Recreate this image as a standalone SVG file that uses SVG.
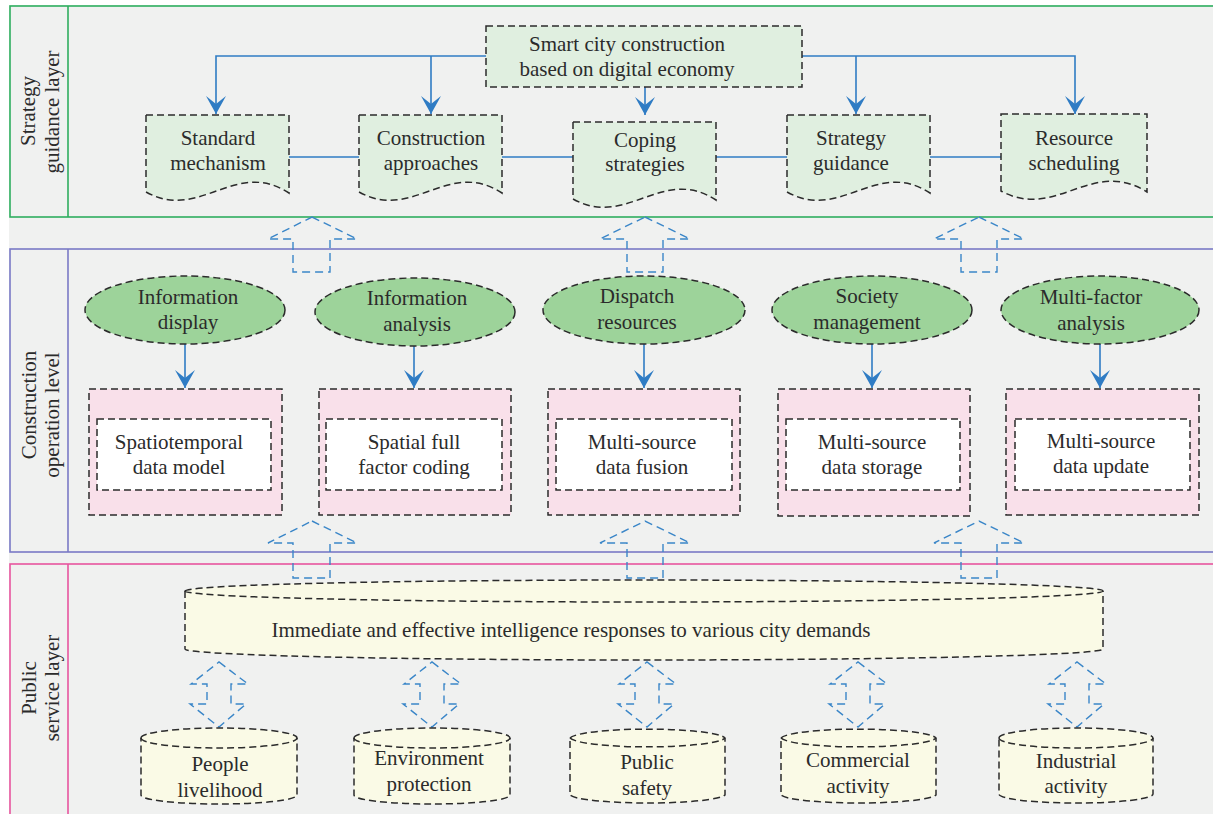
<svg xmlns="http://www.w3.org/2000/svg" width="1213" height="814" viewBox="0 0 1213 814">
<defs>
<style>
.t{font-family:"Liberation Serif","Times New Roman",serif;font-size:21px;fill:#2b2b2b;text-anchor:middle}
.doc{fill:#e0efe0;stroke:#2b2b2b;stroke-width:1.5;stroke-dasharray:7 4}
.ell{fill:#9dd39a;stroke:#2b2b2b;stroke-width:1.5;stroke-dasharray:7 4}
.pink{fill:#f9e0ea;stroke:#2b2b2b;stroke-width:1.5;stroke-dasharray:7 4}
.white{fill:#ffffff;stroke:#2b2b2b;stroke-width:1.5;stroke-dasharray:7 4}
.cyl{fill:#fafae6;stroke:#2b2b2b;stroke-width:1.5;stroke-dasharray:7 4}
.con{fill:none;stroke:#2f7cc4;stroke-width:1.6}
.hol{fill:none;stroke:#3a86c8;stroke-width:1.4;stroke-dasharray:8 5}
</style>
<marker id="ah" markerUnits="userSpaceOnUse" markerWidth="24" markerHeight="24" viewBox="-20 -12 22 24" refX="0" refY="0" orient="auto">
<path d="M0,0 L-18,-10 L-10,0 L-18,10 Z" fill="#2f7cc4"/>
</marker>
</defs>
<rect x="0" y="0" width="1213" height="814" fill="#ffffff"/>
<rect x="9" y="5" width="1210" height="815" fill="#f0f1f0"/>

<g id="layer-strategy">
<rect x="10" y="6" width="1215" height="211" fill="none" stroke="#2fae5f" stroke-width="1.6"/>
<line x1="68" y1="6" x2="68" y2="217" stroke="#2fae5f" stroke-width="1.6"/>
<text class="t" transform="translate(35,111) rotate(-90)">Strategy</text>
<text class="t" transform="translate(59,112) rotate(-90)">guidance layer</text>
</g>
<g id="layer-construction">
<rect x="10" y="249" width="1215" height="303" fill="none" stroke="#7a7ac6" stroke-width="1.6"/>
<line x1="68" y1="249" x2="68" y2="552" stroke="#7a7ac6" stroke-width="1.6"/>
<text class="t" transform="translate(36,405) rotate(-90)">Construction</text>
<text class="t" transform="translate(59,415) rotate(-90)">operation level</text>
</g>
<g id="layer-public">
<rect x="10" y="564" width="1215" height="260" fill="none" stroke="#e8559f" stroke-width="1.6"/>
<line x1="68" y1="564" x2="68" y2="820" stroke="#e8559f" stroke-width="1.6"/>
<text class="t" transform="translate(36,688) rotate(-90)">Public</text>
<text class="t" transform="translate(59,688) rotate(-90)">service layer</text>
</g>

<g id="connectors">
<path class="con" d="M486,56 H216 V114" marker-end="url(#ah)"/>
<path class="con" d="M431,56 V114" marker-end="url(#ah)"/>
<path class="con" d="M802,56 H1075 V114" marker-end="url(#ah)"/>
<path class="con" d="M856,56 V114" marker-end="url(#ah)"/>
<path class="con" d="M645,87 V115" marker-end="url(#ah)"/>
<path class="con" d="M289,157 H360 M502,157 H573 M716,157 H787 M930,157 H1001"/>
<path class="con" d="M185,344 V388" marker-end="url(#ah)"/>
<path class="con" d="M414,346 V388" marker-end="url(#ah)"/>
<path class="con" d="M644,344 V388" marker-end="url(#ah)"/>
<path class="con" d="M872,344 V388" marker-end="url(#ah)"/>
<path class="con" d="M1100,344 V388" marker-end="url(#ah)"/>
<path class="hol" d="M312,217 L357,239 H330 V272 H293 V239 H268 Z"/>
<path class="hol" d="M645,217 L690,239 H663 V272 H627 V239 H600 Z"/>
<path class="hol" d="M979,217 L1024,239 H997 V272 H961 V239 H934 Z"/>
<path class="hol" d="M312,521 L357,543 H330 V578 H293 V543 H268 Z"/>
<path class="hol" d="M645,521 L690,543 H663 V578 H627 V543 H600 Z"/>
<path class="hol" d="M979,521 L1024,543 H997 V578 H961 V543 H934 Z"/>
<path class="hol" d="M219,662 L248,684 H231 V704 H246 L219,727 L190,704 H207 V684 H191 Z"/>
<path class="hol" d="M432,662 L461,684 H444 V704 H459 L432,727 L403,704 H420 V684 H404 Z"/>
<path class="hol" d="M647,662 L676,684 H659 V704 H674 L647,727 L618,704 H635 V684 H619 Z"/>
<path class="hol" d="M858,662 L887,684 H870 V704 H885 L858,727 L829,704 H846 V684 H830 Z"/>
<path class="hol" d="M1077,662 L1106,684 H1089 V704 H1104 L1077,727 L1048,704 H1065 V684 H1049 Z"/>
</g>

<g id="node-smart-city">
<rect class="doc" x="486" y="26" width="316" height="61"/>
<text class="t" x="627" y="51">Smart city construction</text>
<text class="t" x="627" y="76">based on digital economy</text>
</g>
<g id="node-standard-mechanism">
<path class="doc" d="M146,115 H289 V193 C235,158 200,222 146,192 Z"/>
<text class="t" x="218" y="145">Standard</text>
<text class="t" x="218" y="170">mechanism</text>
</g>
<g id="node-construction-approaches">
<path class="doc" d="M359,115 H502 V193 C448,158 413,222 359,192 Z"/>
<text class="t" x="431" y="145">Construction</text>
<text class="t" x="431" y="170">approaches</text>
</g>
<g id="node-coping-strategies">
<path class="doc" d="M573,122 H716 V200 C662,165 627,229 573,199 Z"/>
<text class="t" x="645" y="147">Coping</text>
<text class="t" x="645" y="171">strategies</text>
</g>
<g id="node-strategy-guidance">
<path class="doc" d="M787,115 H930 V193 C876,158 841,222 787,192 Z"/>
<text class="t" x="851" y="145">Strategy</text>
<text class="t" x="851" y="170">guidance</text>
</g>
<g id="node-resource-scheduling">
<path class="doc" d="M1001,114 H1147 V192 C1092,157 1056,221 1001,191 Z"/>
<text class="t" x="1074" y="145">Resource</text>
<text class="t" x="1074" y="170">scheduling</text>
</g>

<g id="node-information-display">
<ellipse class="ell" cx="185" cy="310" rx="100" ry="34"/>
<text class="t" x="188" y="304">Information</text>
<text class="t" x="188" y="329">display</text>
</g>
<g id="node-information-analysis">
<ellipse class="ell" cx="415" cy="312" rx="100" ry="34"/>
<text class="t" x="417" y="305">Information</text>
<text class="t" x="417" y="331">analysis</text>
</g>
<g id="node-dispatch-resources">
<ellipse class="ell" cx="644" cy="310" rx="101" ry="34"/>
<text class="t" x="637" y="303">Dispatch</text>
<text class="t" x="637" y="329">resources</text>
</g>
<g id="node-society-management">
<ellipse class="ell" cx="872" cy="310" rx="100" ry="34"/>
<text class="t" x="867" y="303">Society</text>
<text class="t" x="867" y="329">management</text>
</g>
<g id="node-multi-factor-analysis">
<ellipse class="ell" cx="1100" cy="310" rx="99" ry="34"/>
<text class="t" x="1091" y="304">Multi-factor</text>
<text class="t" x="1091" y="330">analysis</text>
</g>

<g id="node-spatiotemporal">
<rect class="pink" x="89" y="389" width="193" height="126"/>
<rect class="white" x="97" y="419" width="174" height="71"/>
<text class="t" x="179" y="449">Spatiotemporal</text>
<text class="t" x="179" y="474">data model</text>
</g>
<g id="node-spatial-coding">
<rect class="pink" x="319" y="389" width="192" height="126"/>
<rect class="white" x="326" y="419" width="176" height="71"/>
<text class="t" x="414" y="449">Spatial full</text>
<text class="t" x="414" y="474">factor coding</text>
</g>
<g id="node-data-fusion">
<rect class="pink" x="548" y="389" width="192" height="126"/>
<rect class="white" x="556" y="419" width="176" height="71"/>
<text class="t" x="642" y="449">Multi-source</text>
<text class="t" x="642" y="474">data fusion</text>
</g>
<g id="node-data-storage">
<rect class="pink" x="778" y="389" width="192" height="127"/>
<rect class="white" x="786" y="419" width="174" height="71"/>
<text class="t" x="872" y="449">Multi-source</text>
<text class="t" x="872" y="474">data storage</text>
</g>
<g id="node-data-update">
<rect class="pink" x="1006" y="389" width="193" height="126"/>
<rect class="white" x="1015" y="419" width="175" height="71"/>
<text class="t" x="1101" y="448">Multi-source</text>
<text class="t" x="1101" y="473">data update</text>
</g>

<g id="node-intelligence-responses">
<path class="cyl" d="M185,591 A459,11 0 0 1 1103,591 V649 A459,11 0 0 1 185,649 Z"/>
<path class="cyl" d="M185,591 A459,11 0 0 0 1103,591" style="fill:none"/>
<text class="t" x="571" y="637">Immediate and effective intelligence responses to various city demands</text>
</g>

<g id="node-people-livelihood">
<path class="cyl" d="M141,738 A78,10 0 0 1 297,738 V795 A78,9 0 0 1 141,795 Z"/>
<path class="cyl" d="M141,738 A78,10 0 0 0 297,738" style="fill:none"/>
<text class="t" x="220" y="771">People</text>
<text class="t" x="220" y="797">livelihood</text>
</g>
<g id="node-environment-protection">
<path class="cyl" d="M354,738 A78,10 0 0 1 510,738 V795 A78,9 0 0 1 354,795 Z"/>
<path class="cyl" d="M354,738 A78,10 0 0 0 510,738" style="fill:none"/>
<text class="t" x="429" y="765">Environment</text>
<text class="t" x="429" y="791">protection</text>
</g>
<g id="node-public-safety">
<path class="cyl" d="M570,738 A78,10 0 0 1 725,738 V795 A78,9 0 0 1 570,795 Z"/>
<path class="cyl" d="M570,738 A78,10 0 0 0 725,738" style="fill:none"/>
<text class="t" x="647" y="769">Public</text>
<text class="t" x="647" y="795">safety</text>
</g>
<g id="node-commercial-activity">
<path class="cyl" d="M781,738 A78,10 0 0 1 936,738 V795 A78,9 0 0 1 781,795 Z"/>
<path class="cyl" d="M781,738 A78,10 0 0 0 936,738" style="fill:none"/>
<text class="t" x="858" y="767">Commercial</text>
<text class="t" x="858" y="793">activity</text>
</g>
<g id="node-industrial-activity">
<path class="cyl" d="M999,738 A77,10 0 0 1 1153,738 V794 A77,9 0 0 1 999,794 Z"/>
<path class="cyl" d="M999,738 A77,10 0 0 0 1153,738" style="fill:none"/>
<text class="t" x="1076" y="768">Industrial</text>
<text class="t" x="1076" y="793">activity</text>
</g>
</svg>
